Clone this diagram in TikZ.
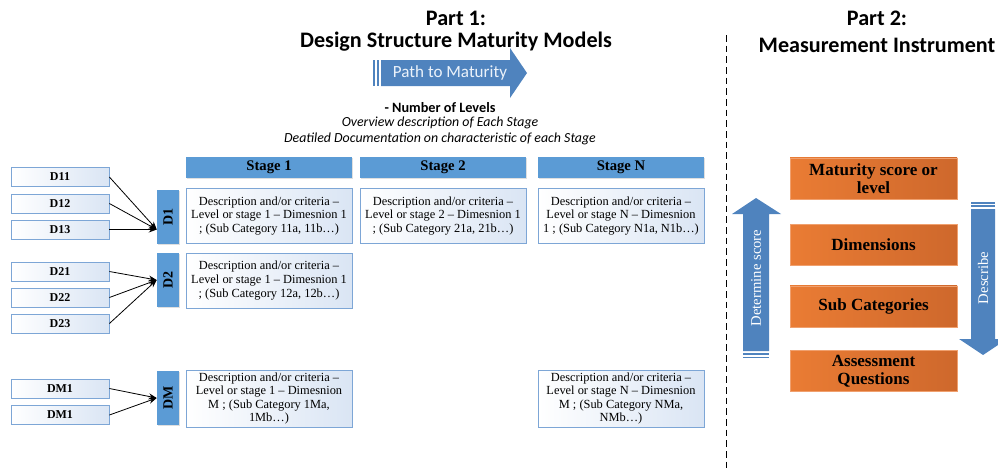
\documentclass[tikz,border=0pt]{standalone}
\usepackage{fontspec}
\setmainfont{Liberation Serif}
\newfontfamily\calibri{Carlito}
\usetikzlibrary{arrows.meta, positioning, calc, shadows}
\definecolor{stageblue}{RGB}{91,155,213}
\definecolor{arrowblue}{RGB}{79,131,190}
\definecolor{boxline}{RGB}{125,166,214}
\definecolor{boxfill}{RGB}{218,229,244}
\definecolor{orangeL}{RGB}{234,124,52}
\definecolor{orangeR}{RGB}{206,104,44}
\definecolor{orangeline}{RGB}{240,160,110}
\definecolor{pathtext}{RGB}{235,242,250}

\tikzset{
  titletext/.style={font=\calibri\bfseries\fontsize{16.6}{19}\selectfont, inner sep=0pt},
  notetext/.style={font=\calibri\fontsize{10.4}{12}\selectfont, inner sep=0pt},
  stagehead/.style={fill=stageblue, minimum width=124.5pt, minimum height=15.75pt, inner sep=0pt,
    drop shadow={opacity=0.25, shadow xshift=0.6pt, shadow yshift=-1pt}, font=\bfseries\fontsize{11}{13}\selectfont},
  descbox/.style={draw=boxline, line width=0.6pt, left color=white, right color=boxfill, align=center,
    minimum width=124.5pt, minimum height=41.25pt, inner sep=0.5pt, font=\fontsize{9.3}{10.2}\selectfont},
  dimblock/.style={fill=stageblue, minimum width=40.5pt, minimum height=16.5pt, inner sep=0pt, rotate=90,
    drop shadow={opacity=0.25, shadow xshift=0.6pt, shadow yshift=-1pt}, font=\bfseries\fontsize{10.5}{12}\selectfont},
  subbox/.style={draw=boxline, line width=0.6pt, left color=white, right color=boxfill,
    minimum width=73.5pt, minimum height=14.25pt, inner sep=0pt, font=\bfseries\fontsize{9}{11}\selectfont},
  instbox/.style={draw=orangeline, line width=0.5pt, left color=orangeL, right color=orangeR, align=center,
    minimum width=125.25pt, minimum height=31pt, inner sep=1pt, font=\bfseries\fontsize{12.8}{13.8}\selectfont},
  link/.style={-{Stealth[length=6pt, width=4.5pt]}, line width=0.6pt},
  arrowtext/.style={text=white, inner sep=0pt, rotate=90, font=\fontsize{11}{13}\selectfont}
}

\begin{document}
\begin{tikzpicture}[x=0.75pt, y=-0.75pt]
  \useasboundingbox (0,0) rectangle (998,468);

  \node[titletext] (part1) at (456,18) {Part 1:};
  \node[titletext] (dsmm) at (456,42) {Design Structure Maturity Models};
  \node[titletext] (part2) at (877,18) {Part 2:};
  \node[titletext] (instr) at (877,45) {Measurement Instrument};

  \coordinate (divtop) at (726,35);
  \coordinate (divbot) at (726,468);
  \draw[dash pattern=on 5pt off 3pt, line width=0.6pt] (divtop) -- (divbot);

  \fill[arrowblue] (381,60) -- (510,60) -- (510,48) -- (527,73) -- (510,98) -- (510,86) -- (381,86) -- cycle;
  \fill[arrowblue] (373,60) rectangle (375,86);
  \fill[arrowblue] (377,60) rectangle (379,86);
  \node[font=\calibri\fontsize{12.8}{15}\selectfont, text=pathtext, inner sep=0pt] (path) at (450,73) {Path to Maturity};

  \node[notetext, font=\calibri\bfseries\fontsize{10.7}{12}\selectfont] (levels) at (440,108) {- Number of Levels};
  \node[notetext, font=\calibri\itshape\fontsize{10.4}{12}\selectfont] (overview) at (440,123) {Overview description of Each Stage};
  \node[notetext, font=\calibri\itshape\fontsize{10.4}{12}\selectfont] (detail) at (440,139) {Deatiled Documentation on characteristic of each Stage};

  \node[stagehead] (stage1) at (269,167.5) {Stage 1};
  \node[stagehead] (stage2) at (443,167.5) {Stage 2};
  \node[stagehead] (stageN) at (621,167.5) {Stage N};

  \node[descbox] (d1s1) at (269,216) {Description and/or criteria --\\Level or stage 1 -- Dimesnion 1\\; (Sub Category 11a, 11b…)};
  \node[descbox] (d1s2) at (443,216) {Description and/or criteria --\\Level or stage 2 -- Dimesnion 1\\; (Sub Category 21a, 21b…)};
  \node[descbox] (d1sN) at (621,216) {Description and/or criteria --\\Level or stage N -- Dimesnion\\1 ; (Sub Category N1a, N1b…)};
  \node[descbox] (d2s1) at (269,280.5) {Description and/or criteria --\\Level or stage 1 -- Dimesnion 1\\; (Sub Category 12a, 12b…)};
  \node[descbox, minimum height=42.75pt] (dms1) at (269,398.5) {Description and/or criteria --\\Level or stage 1 -- Dimesnion\\M ; (Sub Category 1Ma,\\1Mb…)};
  \node[descbox, minimum height=42.75pt] (dmsN) at (621,398.5) {Description and/or criteria --\\Level or stage N -- Dimesnion\\M ; (Sub Category NMa,\\NMb…)};

  \node[dimblock] (D1) at (168,217) {D1};
  \node[dimblock] (D2) at (168,280) {D2};
  \node[dimblock] (DM) at (168,398) {DM};

  \node[subbox] (D11) at (60,177) {D11};
  \node[subbox] (D12) at (60,203.5) {D12};
  \node[subbox] (D13) at (60,229.5) {D13};
  \node[subbox] (D21) at (60,271.5) {D21};
  \node[subbox] (D22) at (60,297.5) {D22};
  \node[subbox] (D23) at (60,323.5) {D23};
  \node[subbox] (DMa) at (60,388.5) {DM1};
  \node[subbox] (DMb) at (60,415) {DM1};

  \coordinate (D1in) at (D1.north |- D13.east);
  \draw[link] (D11.east) -- (D1in);
  \draw[link] (D12.east) -- (D1in);
  \draw[link] (D13.east) -- (D1in);
  \draw[link] (D21.east) -- (D2.north);
  \draw[link] (D22.east) -- (D2.north);
  \draw[link] (D23.east) -- (D2.north);
  \draw[link] (DMa.east) -- (DM.north);
  \draw[link] (DMb.east) -- (DM.north);

  \node[instbox] (score) at (873.5,178.5) {Maturity score or\\level};
  \node[instbox] (dims) at (873.5,245) {Dimensions};
  \node[instbox] (subcat) at (873.5,306.5) {Sub Categories};
  \node[instbox] (assess) at (873.5,371) {Assessment\\Questions};

  \fill[arrowblue] (743,351) -- (743,214) -- (732,214) -- (756,198) -- (781,214) -- (769,214) -- (769,351) -- cycle;
  \fill[arrowblue] (743,353) rectangle (769,355);
  \fill[arrowblue] (743,356.5) rectangle (769,358);
  \node[arrowtext] (determine) at (756,278) {Determine score};

  \fill[arrowblue] (971,209) -- (971,339) -- (959,339) -- (983,355) -- (1007,339) -- (995,339) -- (995,209) -- cycle;
  \fill[arrowblue] (971,202) rectangle (995,203.5);
  \fill[arrowblue] (971,205) rectangle (995,207);
  \node[arrowtext] (describe) at (983,278) {Describe};
\end{tikzpicture}
\end{document}
